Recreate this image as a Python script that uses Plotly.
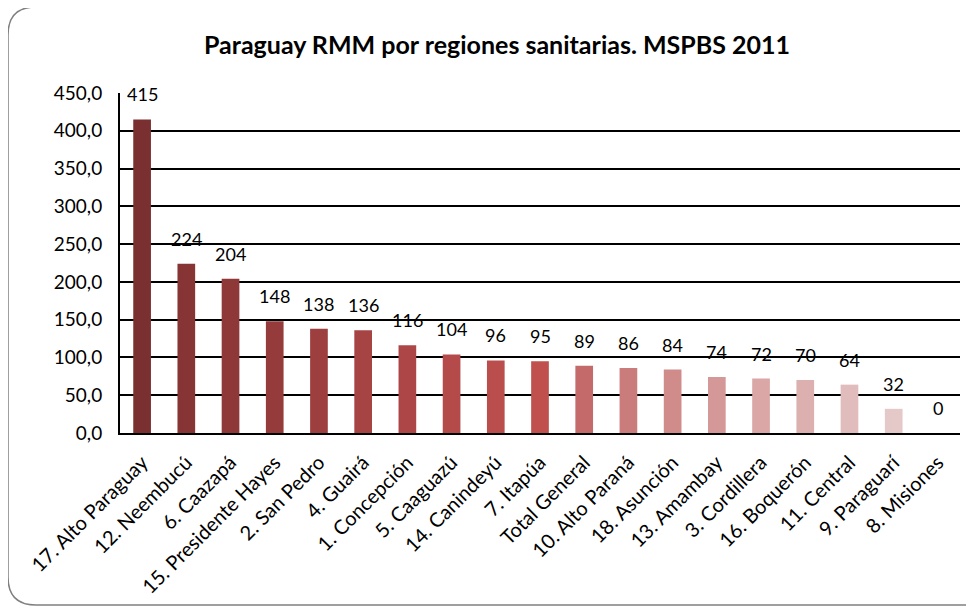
import plotly.graph_objects as go

# Datos: RMM por región sanitaria (MSPBS 2011)
regiones = [
    "17. Alto Paraguay", "12. Neembucú", "6. Caazapá", "15. Presidente Hayes",
    "2. San Pedro", "4. Guairá", "1. Concepción", "5. Caaguazú",
    "14. Canindeyú", "7. Itapúa", "Total General", "10. Alto Paraná",
    "18. Asunción", "13. Amambay", "3. Cordillera", "16. Boquerón",
    "11. Central", "9. Paraguarí", "8. Misiones",
]
rmm = [415, 224, 204, 148, 138, 136, 116, 104, 96, 95, 89, 86, 84, 74, 72, 70, 64, 32, 0]

colores = [
    "#7A3030", "#873434", "#8F3838", "#963B3B", "#9E3F3F", "#A64343",
    "#AD4747", "#B44B4A", "#BA4E4D", "#C0504D", "#C46A6A", "#CA7B7B",
    "#D08B8B", "#D49898", "#DAA6A6", "#DDB0B0", "#E1BCBC", "#E5C8C8", "#E8CECE",
]

FONT = "Lato, 'Open Sans', sans-serif"

fig = go.Figure(
    go.Bar(
        x=regiones,
        y=rmm,
        marker=dict(color=colores, line=dict(width=0)),
        hoverinfo="x+y",
    )
)

# etiquetas de datos sobre cada barra
for reg, val in zip(regiones, rmm):
    fig.add_annotation(
        x=reg, y=val, text=str(val), showarrow=False,
        yanchor="bottom", yshift=12,
        font=dict(size=18, color="black", family=FONT),
    )

# la página tiene 8px de margen en el body -> figura de 966x599
W, H = 966, 599
L, R, T, B = 112, 14, 85, 174
pw, ph = W - L - R, H - T - B


def px(x):
    return (x - L) / pw


def py(y):
    return (H - B - y) / ph


# marco redondeado (coordenadas en px de la figura)
x0, x1, y0, y1, r = 0, 985, -1, 597, 28
path = (
    f"M {px(x0 + r)},{py(y0)} L {px(x1)},{py(y0)} L {px(x1)},{py(y1)} "
    f"L {px(x0 + r)},{py(y1)} Q {px(x0)},{py(y1)} {px(x0)},{py(y1 - r)} "
    f"L {px(x0)},{py(y0 + r)} Q {px(x0)},{py(y0)} {px(x0 + r)},{py(y0)} Z"
)

fig.update_layout(
    width=W,
    height=H,
    margin=dict(l=L, r=R, t=T, b=B),
    paper_bgcolor="white",
    plot_bgcolor="white",
    separators=",.",
    showlegend=False,
    bargap=0.6,
    font=dict(family=FONT, color="black", size=16),
    title=dict(
        text="<b>Paraguay RMM por regiones sanitarias. MSPBS 2011</b>",
        x=px(489),
        xanchor="center",
        xref="paper",
        y=1 - 37 / H,
        yanchor="middle",
        font=dict(size=25, family=FONT, color="black"),
    ),
    xaxis=dict(
        tickangle=-45,
        showline=True,
        linecolor="black",
        linewidth=2,
        ticks="",
        tickfont=dict(size=20),
        ticklabelstandoff=8,
        automargin=False,
    ),
    yaxis=dict(
        range=[0, 450],
        dtick=50,
        tickformat=".1f",
        showgrid=True,
        gridcolor="black",
        gridwidth=1.5,
        showline=True,
        linecolor="black",
        linewidth=2,
        zeroline=False,
        ticks="",
        tickfont=dict(size=19),
        ticklabelstandoff=12,
        automargin=False,
    ),
    shapes=[
        dict(
            type="path",
            path=path,
            xref="paper",
            yref="paper",
            line=dict(color="#808080", width=1.5),
            layer="below",
        )
    ],
)

fig.write_html("out.html")
